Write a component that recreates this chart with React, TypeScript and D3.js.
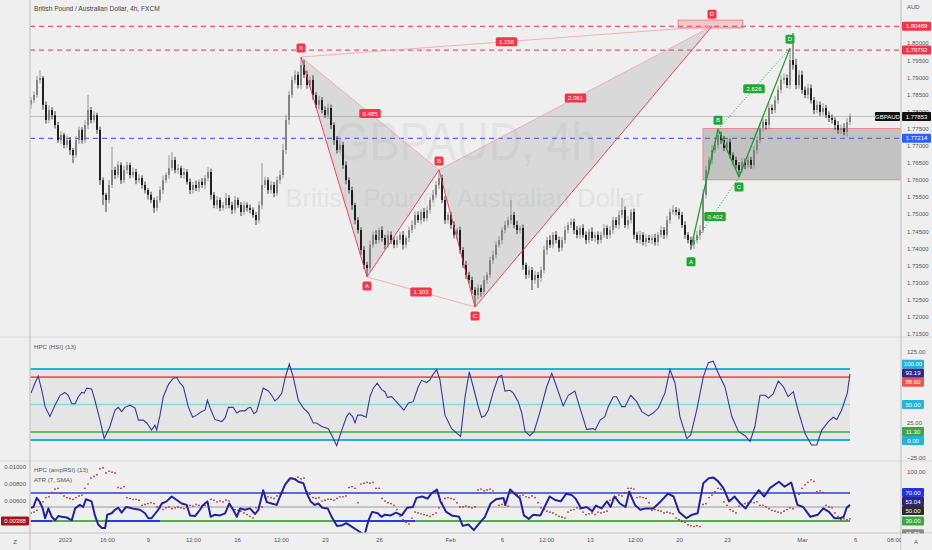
import { useEffect, useRef } from 'react';
import * as d3 from 'd3';

// ---------- price data (4h candles, open = previous close) ----------
const firstOpen = 1.782;
const closes = [
  1.7833, 1.7848, 1.7892, 1.7898, 1.7819, 1.7775, 1.7804, 1.7789, 1.7760, 1.7716,
  1.7731, 1.7702, 1.7716, 1.7687, 1.7672, 1.7716, 1.7746, 1.7716, 1.7760, 1.7804,
  1.7775, 1.7789, 1.7746, 1.7599, 1.7556, 1.7541, 1.7585, 1.7629, 1.7614, 1.7643,
  1.7599, 1.7629, 1.7643, 1.7614, 1.7623, 1.7599, 1.7605, 1.7585, 1.7570, 1.7556,
  1.7541, 1.7518, 1.7541, 1.7570, 1.7599, 1.7614, 1.7634, 1.7658, 1.7629, 1.7634,
  1.7614, 1.7623, 1.7594, 1.7570, 1.7585, 1.7576, 1.7594, 1.7585, 1.7605, 1.7623,
  1.7556, 1.7526, 1.7541, 1.7518, 1.7526, 1.7547, 1.7526, 1.7512, 1.7541, 1.7526,
  1.7506, 1.7526, 1.7518, 1.7512, 1.7497, 1.7482, 1.7526, 1.7585, 1.7599, 1.7570,
  1.7585, 1.7561, 1.7599, 1.7614, 1.7687, 1.7775, 1.7848, 1.7892, 1.7907, 1.7877,
  1.7936, 1.7907, 1.7877, 1.7892, 1.7848, 1.7819, 1.7833, 1.7804, 1.7789, 1.7810,
  1.7760, 1.7716, 1.7687, 1.7702, 1.7643, 1.7599, 1.7570, 1.7526, 1.7482, 1.7453,
  1.7395, 1.7351, 1.7342, 1.7410, 1.7439, 1.7424, 1.7453, 1.7430, 1.7410, 1.7439,
  1.7424, 1.7410, 1.7424, 1.7439, 1.7410, 1.7430, 1.7453, 1.7468, 1.7497, 1.7482,
  1.7506, 1.7488, 1.7512, 1.7541, 1.7556, 1.7585, 1.7605, 1.7541, 1.7482, 1.7497,
  1.7468, 1.7439, 1.7453, 1.7395, 1.7351, 1.7322, 1.7307, 1.7278, 1.7263, 1.7284,
  1.7272, 1.7307, 1.7322, 1.7365, 1.7380, 1.7410, 1.7424, 1.7453, 1.7468, 1.7482,
  1.7497, 1.7468, 1.7453, 1.7459, 1.7351, 1.7322, 1.7336, 1.7307, 1.7322, 1.7313,
  1.7336, 1.7395, 1.7424, 1.7410, 1.7439, 1.7424, 1.7401, 1.7424, 1.7453, 1.7468,
  1.7477, 1.7453, 1.7439, 1.7459, 1.7439, 1.7424, 1.7448, 1.7430, 1.7439, 1.7424,
  1.7439, 1.7459, 1.7439, 1.7453, 1.7482, 1.7468, 1.7497, 1.7512, 1.7468, 1.7482,
  1.7506, 1.7439, 1.7424, 1.7439, 1.7418, 1.7430, 1.7424, 1.7430, 1.7418, 1.7439,
  1.7453, 1.7439, 1.7482, 1.7506, 1.7512, 1.7506, 1.7497, 1.7468, 1.7439, 1.7424,
  1.7410, 1.7424, 1.7439, 1.7453, 1.7556, 1.7629, 1.7658, 1.7687, 1.7702, 1.7731,
  1.7716, 1.7693, 1.7710, 1.7672, 1.7658, 1.7643, 1.7629, 1.7652, 1.7643, 1.7658,
  1.7643, 1.7687, 1.7716, 1.7751, 1.7769, 1.7760, 1.7810, 1.7804, 1.7833, 1.7863,
  1.7892, 1.7898, 1.7877, 1.7950, 1.7936, 1.7877, 1.7907, 1.7863, 1.7848, 1.7868,
  1.7833, 1.7804, 1.7819, 1.7798, 1.7810, 1.7789, 1.7781, 1.7775, 1.7760, 1.7746,
  1.7751, 1.7740, 1.7769, 1.77853,
];
// wick lengths in pips above the body / below the body
const wickUp = [
  8, 10, 12, 23, 6, 10, 14, 8, 12, 9, 11, 7, 13, 9, 6, 12, 10, 8, 14, 44,
  9, 12, 7, 10, 8, 6, 14, 67, 9, 11, 8, 12, 10, 7, 13, 9, 11, 8, 10, 6,
  9, 7, 12, 10, 14, 8, 38, 23, 9, 11, 7, 12, 8, 10, 9, 13, 7, 11, 9, 14,
  10, 8, 12, 7, 9, 14, 8, 10, 12, 7, 9, 11, 8, 10, 7, 9, 12, 64, 10, 8,
  12, 9, 11, 14, 18, 15, 12, 10, 14, 9, 23, 16, 12, 10, 14, 8, 12, 9, 11, 13,
  10, 8, 12, 14, 9, 11, 8, 10, 7, 9, 8, 11, 9, 12, 10, 14, 8, 11, 9, 12,
  10, 8, 12, 9, 11, 7, 10, 13, 9, 11, 8, 12, 10, 9, 14, 11, 24, 10, 12, 8,
  9, 11, 7, 10, 8, 12, 9, 10, 8, 11, 9, 12, 8, 10, 14, 9, 11, 8, 12, 10,
  44, 9, 12, 8, 10, 7, 11, 9, 12, 8, 10, 12, 9, 14, 8, 11, 10, 9, 12, 8,
  10, 9, 12, 8, 11, 10, 9, 13, 8, 10, 9, 11, 8, 12, 10, 9, 14, 35, 10, 12,
  8, 10, 9, 12, 8, 11, 9, 10, 12, 8, 11, 9, 12, 10, 14, 8, 10, 9, 11, 8,
  10, 9, 12, 14, 16, 12, 10, 14, 11, 17, 10, 12, 9, 11, 8, 10, 9, 12, 10, 11,
  9, 12, 10, 14, 11, 9, 13, 10, 12, 11, 14, 12, 10, 35, 79, 18, 14, 12, 10, 13,
  11, 9, 12, 10, 14, 9, 11, 10, 8, 12, 10, 14, 12, 9,
];
const wickDown = [
  12, 9, 8, 10, 14, 11, 9, 12, 10, 8, 12, 10, 9, 14, 23, 8, 11, 10, 9, 12,
  10, 8, 12, 14, 30, 35, 10, 9, 12, 8, 11, 9, 12, 10, 8, 12, 9, 11, 10, 14,
  9, 15, 10, 8, 12, 9, 11, 8, 10, 12, 9, 11, 8, 12, 10, 9, 11, 8, 12, 10,
  14, 9, 12, 10, 8, 11, 9, 12, 10, 8, 12, 9, 11, 10, 8, 14, 10, 12, 9, 11,
  10, 12, 9, 11, 10, 12, 14, 9, 11, 10, 12, 9, 11, 10, 14, 9, 12, 10, 8, 11,
  12, 14, 10, 9, 11, 12, 10, 14, 12, 10, 14, 12, 26, 10, 9, 12, 10, 11, 14, 9,
  12, 10, 9, 11, 14, 10, 12, 9, 11, 8, 12, 10, 9, 11, 8, 10, 12, 9, 11, 10,
  12, 10, 14, 11, 9, 12, 10, 11, 35, 12, 14, 10, 12, 9, 11, 10, 8, 12, 10, 9,
  11, 10, 12, 9, 14, 12, 10, 29, 11, 29, 12, 10, 14, 9, 11, 10, 12, 9, 11, 10,
  9, 12, 10, 11, 8, 12, 10, 9, 11, 12, 10, 9, 12, 10, 11, 9, 12, 10, 9, 11,
  10, 12, 9, 11, 10, 14, 9, 12, 10, 11, 9, 12, 10, 11, 8, 10, 12, 9, 11, 10,
  15, 12, 10, 14, 9, 11, 10, 12, 9, 10, 11, 9, 12, 10, 14, 11, 21, 10, 12, 9,
  11, 10, 12, 9, 11, 14, 10, 12, 9, 11, 10, 12, 9, 11, 14, 12, 10, 11, 9, 12,
  10, 12, 9, 11, 10, 9, 12, 10, 14, 11, 12, 10, 14, 9,
];

const priceTicks = [1.715, 1.72, 1.725, 1.73, 1.735, 1.74, 1.745, 1.75, 1.755, 1.76, 1.765, 1.77, 1.775, 1.78, 1.785, 1.79, 1.795, 1.8];
const timeTickBars = [11.3, 25.3, 39, 54, 68.7, 83.3, 98, 116, 139.7, 157, 171.7, 186.3, 201.3, 216, 232, 257, 274.7, 287.7];
const timeTickLabels = ['2023', '16:00', '9', '12:00', '16', '12:00', '23', '26', 'Feb', '6', '12:00', '13', '12:00', '20', '23', 'Mar', '6', '08:00'];

const levelPrices = [1.80489, 1.79792, 1.77214];
const lastPrice = 1.77853;

// bearish harmonic (red) and bullish harmonic (green)
const redNames = ['X', 'A', 'B', 'C', 'D'];
const redBars = [90, 112, 136, 148, 227];
const redPrices = [1.7959, 1.7316, 1.7629, 1.7228, 1.8049];
const redRatios = ['0.485', '1.303', '2.061', '1.156'];
const greenNames = ['A', 'B', 'C', 'D'];
const greenBars = [220, 229, 236, 253];
const greenPrices = [1.7401, 1.7748, 1.7608, 1.7985];
const greenRatios = ['0.402', '2.626'];
const zoneBars = [224, 290];
const zonePrices = [1.775, 1.76];
const targetBars = [215.7, 237.3];
const targetPrices = [1.8067, 1.8044];

// HPC (HSI) (13): [bar, value]
const hsiPoints: [number, number][] = [
  [0, 66], [1.3, 80], [2.4, 90], [3.6, 70], [4.7, 47], [6.3, 33], [8, 49], [9.7, 63], [11.3, 67], [12.4, 63],
  [13.6, 51], [14.7, 51], [15.8, 61], [16.9, 67], [17.7, 66], [18.6, 73], [20.2, 72], [21.3, 56], [23, 28], [24.4, 2],
  [26.3, 19], [28, 42], [29.1, 46], [30.2, 40], [31.3, 46], [33, 49], [34.7, 45], [35.8, 28], [37.4, 28], [38.6, 24],
  [40.2, 14], [41.3, 21], [41.9, 14], [43, 35], [44.1, 61], [45.8, 78], [47.4, 87], [48.6, 88], [49.7, 80], [50.8, 75],
  [52.4, 47], [53.9, 32], [55.2, 35], [56.9, 40], [58, 42], [58.8, 56], [59.7, 45], [61.3, 29], [63.6, 26], [64.7, 31],
  [65.8, 46], [67.4, 46], [68.6, 38], [69.7, 41], [71.3, 41], [72.4, 45], [73.2, 46], [74.3, 37], [75.2, 40], [77.4, 73],
  [79.1, 69], [80.2, 63], [81.3, 55], [82.4, 59], [83.6, 66], [84.7, 87], [86.1, 107], [87.4, 89], [89.1, 56], [90.8, 45],
  [92.5, 38], [94.1, 24], [95.2, 24], [96.9, 19], [99.1, 16], [100.2, 7], [101.9, -8], [103.6, 14], [105.2, 33], [106.1, 38],
  [107.2, 33], [108, 24], [108.9, 35], [110.2, 35], [111.7, 32], [113, 61], [114.1, 73], [115.4, 80], [116.9, 71], [118, 68],
  [118.8, 60], [120.2, 61], [121.3, 56], [122.8, 49], [124.3, 42], [125.8, 52], [127.4, 54], [129.1, 75], [130.2, 84], [131.9, 81],
  [133, 85], [134.1, 93], [135.2, 99], [136.3, 85], [138, 35], [140.2, 16], [143.2, 5], [144.7, 61], [146.1, 96], [147.4, 75],
  [149.1, 47], [150.2, 32], [151.3, 34], [152.4, 42], [154.1, 68], [155.8, 89], [156.9, 91], [158, 69], [159.7, 70], [160.8, 66],
  [162.4, 54], [163.6, 38], [164.7, 12], [166.3, 6], [167.7, 12], [169.7, 40], [171.9, 75], [173.6, 94], [175.2, 75], [177.4, 48],
  [179.1, 63], [181.3, 69], [183, 45], [185.2, 15], [187.4, 16], [188.1, 14], [189.7, 28], [191.3, 33], [192.4, 47], [194.1, 61],
  [195.2, 61], [196.9, 47], [198, 47], [199.9, 63], [201.9, 54], [203.6, 40], [205.8, 34], [207.4, 38], [209.1, 45], [211.3, 66],
  [213, 99], [214.7, 80], [216.3, 33], [218.6, 2], [219.9, 7], [221.9, 42], [224.1, 89], [225.8, 109], [227.4, 111], [229.1, 94],
  [231.3, 75], [233.6, 33], [235.8, 12], [238, 6], [239.7, -2], [241.3, 19], [243, 63], [244.7, 63], [245.8, 59], [247.4, 65],
  [249.1, 83], [250.8, 75], [252.4, 61], [254.1, 68], [255.8, 40], [258, 9], [260.2, -7], [261.9, -7], [263.6, 14], [265.8, 26],
  [267.4, 32], [268.6, 29], [270.2, 42], [272.1, 66], [273, 93.19],
];
const hsiLevels = [100, 88.6, 50, 11.3, 0];
const hsiTicks = [125, 25, -25];

// HPC (ampRSI) (13): [bar, value]
const ampPoints: [number, number][] = [
  [0, 49], [0.8, 50], [1.9, 63], [3, 57], [3.9, 48], [4.7, 34], [5.8, 48], [6.9, 36], [8, 31], [9.1, 37],
  [10.2, 36], [11.9, 35], [13.6, 31], [14.7, 48], [16.3, 53], [17.4, 50], [18.3, 61], [20.2, 58], [21.3, 38], [22.4, 25],
  [23.6, 20], [24.7, 20], [25.4, 39], [26.9, 41], [28, 46], [29.1, 49], [30.2, 42], [31.7, 50], [33, 49], [34.7, 47],
  [36.3, 46], [38, 41], [39.1, 34], [40.2, 34], [41.3, 40], [42.4, 46], [43.6, 55], [45.2, 58], [46.9, 65], [48.6, 60],
  [50.2, 55], [51.9, 53], [53, 38], [54.7, 37], [56.3, 46], [57.4, 53], [58.8, 58], [59.9, 36], [61.3, 39], [63, 38],
  [64.7, 41], [66.1, 55], [67.4, 46], [68.6, 36], [69.7, 48], [71.3, 46], [73, 48], [74.7, 40], [75.8, 46], [77.4, 74],
  [78.6, 57], [80.2, 55], [81.9, 53], [83, 65], [84.7, 82], [86.3, 91], [88, 90], [89.1, 86], [90.8, 84], [91.9, 70],
  [93.2, 58], [94.6, 53], [95.8, 55], [97.1, 49], [98.9, 48], [100.2, 36], [102, 23], [103.8, 24], [105.1, 27], [106.9, 22],
  [109.4, 15], [111.2, 10], [112.5, 31], [113.7, 43], [115.6, 41], [116.8, 36], [118, 39], [119.9, 38], [121.7, 42], [123.6, 38],
  [125.4, 49], [127.3, 50], [128.5, 63], [130.4, 65], [132.2, 62], [133.4, 69], [135.3, 75], [136.5, 58], [138.4, 43], [140.2, 38],
  [142.7, 36], [143.9, 23], [145.8, 25], [147.6, 17], [149.5, 27], [151.3, 36], [153.2, 55], [155, 61], [157.5, 63], [158.1, 53],
  [159.7, 75], [161.2, 69], [163, 62], [164.3, 38], [165.9, 33], [167.4, 39], [169.8, 38], [172.9, 65], [174.7, 60], [176.6, 58],
  [178.4, 69], [180.3, 67], [181.5, 62], [183.4, 48], [185.2, 50], [187.1, 44], [188.3, 52], [190.2, 48], [192, 58], [193.2, 50],
  [194.5, 65], [196.3, 55], [198.2, 50], [199.4, 72], [201.3, 53], [203.1, 46], [205, 48], [207.4, 48], [209.9, 58], [212.3, 69],
  [214.2, 65], [216, 43], [218.5, 34], [220.4, 39], [222.2, 41], [224.1, 84], [225.9, 91], [227.5, 92], [229, 87], [230.8, 77],
  [232.7, 58], [234.5, 65], [236.4, 55], [238.2, 48], [240.1, 60], [242.6, 74], [244.4, 65], [246.3, 77], [249.3, 86], [251.2, 79],
  [253.4, 85], [255.5, 53], [257.4, 50], [259.8, 36], [262.3, 39], [264.1, 48], [266, 43], [267.8, 34], [269.7, 34], [270.9, 36],
  [271.9, 49], [273, 53.04],
];
const ampLevels = [70, 50, 30];
const ampTicks = [100];
const ampBlueStart = [0, 25, 101];
const ampBlueEnd = [7, 43, 128];

// ATR (7, SMA), one value per bar
const atr = [
  .0046, .0047, .0049, .0057, .0059, .0064, .0065, .0070, .0074, .0075,
  .0069, .0066, .0064, .0063, .0062, .0064, .0066, .0067, .0075, .0080,
  .0087, .0089, .0091, .0098, .0099, .0093, .0095, .0094, .0093, .0076,
  .0075, .0077, .0064, .0063, .0062, .0062, .0061, .0055, .0056, .0057,
  .0058, .0057, .0053, .0052, .0050, .0052, .0053, .0051, .0052, .0053,
  .0052, .0051, .0053, .0055, .0054, .0056, .0055, .0054, .0055, .0057,
  .0062, .0061, .0059, .0060, .0059, .0061, .0060, .0052, .0050, .0049,
  .0048, .0046, .0044, .0042, .0040, .0052, .0053, .0053, .0064, .0065,
  .0064, .0063, .0066, .0069, .0070, .0081, .0084, .0087, .0085, .0088,
  .0086, .0087, .0071, .0068, .0064, .0063, .0064, .0060, .0061, .0062,
  .0062, .0061, .0063, .0065, .0065, .0066, .0076, .0077, .0075, .0058,
  .0080, .0081, .0082, .0081, .0082, .0075, .0075, .0063, .0060, .0058,
  .0057, .0055, .0050, .0042, .0038, .0035, .0033, .0040, .0047, .0046,
  .0045, .0044, .0043, .0042, .0044, .0046, .0052, .0058, .0063, .0064,
  .0063, .0062, .0058, .0053, .0053, .0054, .0053, .0052, .0053, .0073,
  .0074, .0072, .0073, .0074, .0072, .0062, .0055, .0056, .0055, .0054,
  .0070, .0069, .0068, .0066, .0067, .0065, .0064, .0066, .0064, .0058,
  .0052, .0050, .0048, .0047, .0046, .0044, .0042, .0041, .0040, .0047,
  .0049, .0050, .0052, .0051, .0047, .0044, .0045, .0046, .0044, .0047,
  .0046, .0047, .0048, .0061, .0063, .0065, .0067, .0066, .0070, .0075,
  .0075, .0074, .0064, .0065, .0064, .0063, .0058, .0049, .0050, .0049,
  .0048, .0046, .0047, .0046, .0045, .0040, .0038, .0036, .0035, .0032,
  .0031, .0030, .0031, .0030, .0056, .0057, .0064, .0067, .0071, .0075,
  .0074, .0059, .0055, .0050, .0048, .0046, .0054, .0056, .0057, .0058,
  .0059, .0058, .0059, .0055, .0055, .0053, .0051, .0049, .0048, .0047,
  .0046, .0048, .0050, .0052, .0051, .0060, .0068, .0075, .0079, .0082,
  .0085, .0083, .0071, .0072, .0070, .0055, .0053, .0052, .0046, .0042,
  .0038, .0039, .0038, .0039,
];
const atrTicks = [0.01, 0.008, 0.006];
const atrLast = 0.00388;

const FONT = '"Liberation Sans", Arial, sans-serif';

export default function App() {
  const svgRef = useRef<SVGSVGElement>(null);

  useEffect(() => {
    if (!svgRef.current) return;
    const W = 932, H = 550;
    const L = 30, R = 901;
    const mainBot = 337, hsiBot = 461, lowBot = 533;

    const root = d3.select(svgRef.current);
    root.selectAll('*').remove();
    root.attr('width', W).attr('height', H);

    const x = d3.scaleLinear().domain([0, 290]).range([31, 901]);
    const yMain = d3.scaleLinear().domain([1.75, 1.8]).range([214, 43]);
    const yHsi = d3.scaleLinear().domain([0, 100]).range([440, 369]);
    const yAmp = d3.scaleLinear().domain([30, 70]).range([521, 493]);
    const yAtr = d3.scaleLinear().domain([0.006, 0.01]).range([501, 467]);

    root.append('rect').attr('width', W).attr('height', H).attr('fill', '#efefef');

    const defs = root.append('defs');
    const clip = (id: string, y0: number, y1: number) =>
      defs.append('clipPath').attr('id', id).append('rect')
        .attr('x', L + 0.5).attr('y', y0).attr('width', R - L - 1).attr('height', y1 - y0);
    clip('c-main', 0, mainBot);
    clip('c-hsi', mainBot, hsiBot);
    clip('c-low', hsiBot, lowBot);
    defs.append('clipPath').attr('id', 'c-time').append('rect')
      .attr('x', L).attr('y', lowBot).attr('width', R - L).attr('height', H - lowBot);

    // ---------- main panel ----------
    const main = root.append('g').attr('clip-path', 'url(#c-main)');

    main.append('text').attr('x', (L + R) / 2).attr('y', 160).attr('text-anchor', 'middle')
      .attr('font-family', FONT).attr('font-size', 54).attr('fill', '#e3e3e3')
      .attr('textLength', 262).attr('lengthAdjust', 'spacingAndGlyphs').text('GBPAUD, 4h');
    main.append('text').attr('x', (L + R) / 2 - 1).attr('y', 207).attr('text-anchor', 'middle')
      .attr('font-family', FONT).attr('font-size', 26).attr('fill', '#e3e3e3')
      .attr('textLength', 358).attr('lengthAdjust', 'spacingAndGlyphs').text('British Pound / Australian Dollar');

    // last price line and levels
    main.append('line').attr('x1', L).attr('x2', R)
      .attr('y1', yMain(lastPrice)).attr('y2', yMain(lastPrice))
      .attr('stroke', '#a8a8a8').attr('stroke-width', 0.7);
    const levelColors = ['#e5566b', '#e5566b', '#4a6ee8'];
    levelPrices.forEach((p, i) => {
      main.append('line').attr('x1', L).attr('x2', R).attr('y1', yMain(p)).attr('y2', yMain(p))
        .attr('stroke', levelColors[i]).attr('stroke-width', 1.3).attr('stroke-dasharray', '5,4');
    });

    // zone rectangle
    main.append('rect')
      .attr('x', x(zoneBars[0])).attr('y', yMain(zonePrices[0]))
      .attr('width', x(zoneBars[1]) - x(zoneBars[0]))
      .attr('height', yMain(zonePrices[1]) - yMain(zonePrices[0]))
      .attr('fill', 'rgba(120,120,120,0.38)').attr('stroke', '#ee8a8a').attr('stroke-width', 1);

    // red pattern triangles
    const rp = redBars.map((b, i) => [x(b), yMain(redPrices[i])] as [number, number]);
    [[0, 1, 2], [2, 3, 4]].forEach(t => {
      main.append('path').attr('d', 'M' + t.map(k => rp[k].join(',')).join('L') + 'Z')
        .attr('fill', 'rgba(140,140,140,0.22)');
    });

    // candles
    const candles = closes.map((c, i) => {
      const o = i ? closes[i - 1] : firstOpen;
      return { i, o, c, h: Math.max(o, c) + wickUp[i] * 1e-4, l: Math.min(o, c) - wickDown[i] * 1e-4 };
    });
    const col = (d: any) => (d.c >= d.o ? '#7e7e7e' : '#151515');
    main.append('g').selectAll('line').data(candles).join('line')
      .attr('x1', d => x(d.i)).attr('x2', d => x(d.i))
      .attr('y1', d => yMain(d.h)).attr('y2', d => yMain(d.l))
      .attr('stroke', col).attr('stroke-width', 0.8);
    main.append('g').selectAll('rect').data(candles).join('rect')
      .attr('x', d => x(d.i) - 0.9).attr('width', 1.8)
      .attr('y', d => yMain(Math.max(d.o, d.c)))
      .attr('height', d => Math.max(0.7, Math.abs(yMain(d.o) - yMain(d.c))))
      .attr('fill', col);

    // target box
    main.append('rect')
      .attr('x', x(targetBars[0])).attr('y', yMain(targetPrices[0]))
      .attr('width', x(targetBars[1]) - x(targetBars[0]))
      .attr('height', yMain(targetPrices[1]) - yMain(targetPrices[0]))
      .attr('fill', 'rgba(242,54,69,0.2)').attr('stroke', '#f0707c').attr('stroke-width', 0.8);

    const seg = (g: any, a: [number, number], b: [number, number], color: string, w: number, dash?: string) =>
      g.append('line').attr('x1', a[0]).attr('y1', a[1]).attr('x2', b[0]).attr('y2', b[1])
        .attr('stroke', color).attr('stroke-width', w).attr('stroke-dasharray', dash || null);

    const box = (g: any, cx: number, cy: number, text: string, bg: string, w?: number) => {
      const bw = w || text.length * 3.3 + 5;
      g.append('rect').attr('x', cx - bw / 2).attr('y', cy - 4.5).attr('width', bw).attr('height', 9)
        .attr('rx', 1.5).attr('fill', bg);
      g.append('text').attr('x', cx).attr('y', cy + 2.1).attr('text-anchor', 'middle')
        .attr('font-family', FONT).attr('font-size', 6).attr('fill', '#fff').text(text);
    };

    // red pattern lines
    const lightRed = '#f3a0a6', red = '#f23645';
    seg(main, rp[0], rp[2], lightRed, 0.8);
    seg(main, rp[1], rp[3], lightRed, 0.8);
    seg(main, rp[2], rp[4], lightRed, 0.8);
    seg(main, rp[0], rp[4], lightRed, 0.8);
    for (let k = 0; k < 4; k++) seg(main, rp[k], rp[k + 1], red, 0.9);
    const mid = (a: [number, number], b: [number, number]) => [(a[0] + b[0]) / 2, (a[1] + b[1]) / 2];
    [[0, 2], [1, 3], [2, 4], [0, 4]].forEach(([a, b], i) => {
      const m = mid(rp[a], rp[b]);
      box(main, m[0], m[1], redRatios[i], red);
    });
    rp.forEach((p, i) => {
      const up = i % 2 === 0;
      box(main, p[0], p[1] + (up ? -(i === 4 ? 12 : 9) : 9), redNames[i], red, 9);
    });

    // green pattern
    const gp = greenBars.map((b, i) => [x(b), yMain(greenPrices[i])] as [number, number]);
    const green = '#1f9d2f';
    seg(main, gp[0], gp[2], green, 1, '1,2');
    seg(main, gp[1], gp[3], green, 1, '1,2');
    for (let k = 0; k < 3; k++) seg(main, gp[k], gp[k + 1], green, 1.3);
    [[0, 2], [1, 3]].forEach(([a, b], i) => {
      const m = mid(gp[a], gp[b]);
      box(main, m[0], m[1] + (i === 0 ? 4 : 0), greenRatios[i], '#22a533');
    });
    gp.forEach((p, i) => {
      const up = i % 2 === 1;
      box(main, p[0], p[1] + (up ? -9 : (i === 0 ? 14 : 10)), greenNames[i], '#22a533', 9);
    });

    // ---------- HSI panel ----------
    const hsi = root.append('g').attr('clip-path', 'url(#c-hsi)');
    const hsiEnd = x(273);
    hsi.append('rect').attr('x', L).attr('y', yHsi(100)).attr('width', hsiEnd - L)
      .attr('height', yHsi(0) - yHsi(100)).attr('fill', '#e5e5e5');
    const hsiColors = ['#1fb3d8', '#f0555a', '#8fd8e8', '#3daa45', '#1fb3d8'];
    const hsiWidths = [2, 1.6, 1.5, 1.6, 2];
    hsiLevels.forEach((v, i) => {
      hsi.append('line').attr('x1', L).attr('x2', hsiEnd).attr('y1', yHsi(v)).attr('y2', yHsi(v))
        .attr('stroke', hsiColors[i]).attr('stroke-width', hsiWidths[i]);
    });
    const hsiLine = d3.line<[number, number]>().x(d => x(d[0])).y(d => yHsi(d[1]));
    hsi.append('path').attr('d', hsiLine(hsiPoints)).attr('fill', 'none')
      .attr('stroke', '#3a3896').attr('stroke-width', 1.1);

    // ---------- ampRSI / ATR panel ----------
    const low = root.append('g').attr('clip-path', 'url(#c-low)');
    const ampColors = ['#2b3ddf', '#9a9a9a', '#4caf50'];
    const ampWidths = [1.6, 1, 1.8];
    ampLevels.forEach((v, i) => {
      low.append('line').attr('x1', L).attr('x2', hsiEnd).attr('y1', yAmp(v)).attr('y2', yAmp(v))
        .attr('stroke', ampColors[i]).attr('stroke-width', ampWidths[i]);
    });
    ampBlueStart.forEach((s, i) => {
      low.append('line').attr('x1', x(s)).attr('x2', x(ampBlueEnd[i])).attr('y1', yAmp(30)).attr('y2', yAmp(30))
        .attr('stroke', '#2b3ddf').attr('stroke-width', 1.8);
    });
    low.append('g').selectAll('circle').data(atr).join('circle')
      .attr('cx', (_, i) => x(i)).attr('cy', d => yAtr(d)).attr('r', 0.85).attr('fill', '#b3262e');
    const ampLine = d3.line<[number, number]>().x(d => x(d[0])).y(d => yAmp(d[1]));
    low.append('path').attr('d', ampLine(ampPoints)).attr('fill', 'none')
      .attr('stroke', '#23239c').attr('stroke-width', 2).attr('stroke-linejoin', 'round');

    // ---------- separators ----------
    [mainBot, hsiBot].forEach(y => root.append('line').attr('x1', 0).attr('x2', W).attr('y1', y).attr('y2', y)
      .attr('stroke', '#dadada').attr('stroke-width', 1));
    root.append('line').attr('x1', 0).attr('x2', W).attr('y1', lowBot).attr('y2', lowBot)
      .attr('stroke', '#c4c4c4').attr('stroke-width', 1);
    [L, R].forEach(xx => root.append('line').attr('x1', xx).attr('x2', xx).attr('y1', 0).attr('y2', H)
      .attr('stroke', '#bdbdbd').attr('stroke-width', 1));

    // ---------- axes ----------
    const styleAxis = (g: any) => {
      g.select('.domain').remove();
      g.selectAll('text').attr('fill', '#555').attr('font-size', 6).attr('font-family', FONT);
    };
    root.append('g').attr('transform', `translate(${R},0)`)
      .call(d3.axisRight(yMain).tickValues(priceTicks).tickFormat(d3.format('.5f')).tickSize(0).tickPadding(6))
      .call(styleAxis);
    root.append('g').attr('transform', `translate(${R},0)`)
      .call(d3.axisRight(yHsi).tickValues(hsiTicks).tickFormat(d3.format('.2f')).tickSize(0).tickPadding(6))
      .call(styleAxis);
    root.append('g').attr('transform', `translate(${R},0)`)
      .call(d3.axisRight(yAmp).tickValues(ampTicks).tickFormat(d3.format('.2f')).tickSize(0).tickPadding(6))
      .call(styleAxis);
    root.append('g').attr('transform', `translate(${L},0)`)
      .call(d3.axisLeft(yAtr).tickValues(atrTicks).tickFormat(d3.format('.5f')).tickSize(0).tickPadding(4))
      .call(styleAxis);
    root.append('g').attr('clip-path', 'url(#c-time)')
      .append('g').attr('transform', `translate(0,${lowBot})`)
      .call(d3.axisBottom(x).tickValues(timeTickBars).tickFormat((_, i) => timeTickLabels[i]).tickSize(0).tickPadding(5))
      .call(styleAxis);

    const plain = (tx: number, ty: number, t: string, size = 6, anchor = 'start', fill = '#555') =>
      root.append('text').attr('x', tx).attr('y', ty).attr('text-anchor', anchor)
        .attr('font-family', FONT).attr('font-size', size).attr('fill', fill).text(t);
    plain(907, 9, 'AUD');
    plain(15, 544, 'Z', 6, 'middle');
    plain(34, 11, 'British Pound / Australian Dollar, 4h, FXCM', 6.6, 'start', '#444');
    plain(34, 349, 'HPC (HSI) (13)', 6.2, 'start', '#555');
    plain(34, 472, 'HPC (ampRSI) (13)', 6.2, 'start', '#555');
    plain(34, 482, 'ATR (7, SMA)', 6.2, 'start', '#555');

    // ---------- value tags ----------
    const spread = (items: { y: number; t: string; bg: string }[], h: number) => {
      const sorted = [...items].sort((a, b) => a.y - b.y);
      let groups = sorted.map(it => ({ items: [it], c: it.y }));
      let merged = true;
      while (merged) {
        merged = false;
        for (let k = 1; k < groups.length; k++) {
          const a = groups[k - 1], b = groups[k];
          if (b.c - b.items.length * h / 2 < a.c + a.items.length * h / 2) {
            const its = a.items.concat(b.items);
            groups.splice(k - 1, 2, { items: its, c: d3.mean(its, d => d.y) as number });
            merged = true;
            break;
          }
        }
      }
      const out: { y: number; t: string; bg: string }[] = [];
      groups.forEach(g => g.items.forEach((it, k) =>
        out.push({ ...it, y: g.c - (g.items.length - 1) * h / 2 + k * h })));
      return out;
    };
    const tag = (tx: number, ty: number, w: number, t: string, bg: string) => {
      root.append('rect').attr('x', tx).attr('y', ty - 4.5).attr('width', w).attr('height', 9)
        .attr('rx', 1).attr('fill', bg);
      root.append('text').attr('x', tx + w / 2).attr('y', ty + 2.1).attr('text-anchor', 'middle')
        .attr('font-family', FONT).attr('font-size', 6).attr('fill', '#fff').text(t);
    };
    const mainTags = [
      { y: yMain(levelPrices[0]), t: d3.format('.5f')(levelPrices[0]), bg: '#f23645' },
      { y: yMain(levelPrices[1]), t: d3.format('.5f')(levelPrices[1]), bg: '#f23645' },
      { y: yMain(lastPrice), t: d3.format('.5f')(lastPrice), bg: '#111' },
      { y: yMain(levelPrices[2]), t: d3.format('.5f')(levelPrices[2]), bg: '#2962ff' },
    ];
    mainTags.forEach(d => tag(R + 1, d.y, 29, d.t, d.bg));
    tag(R - 26, yMain(lastPrice), 25, 'GBPAUD', '#111');

    const hsiLast = hsiPoints[hsiPoints.length - 1][1];
    spread([
      { y: yHsi(100), t: '100.00', bg: '#1fb3d8' },
      { y: yHsi(hsiLast), t: d3.format('.2f')(hsiLast), bg: '#2d2a8c' },
      { y: yHsi(88.6), t: '88.60', bg: '#f25252' },
      { y: yHsi(50), t: '50.00', bg: '#22b5d8' },
      { y: yHsi(11.3), t: '11.30', bg: '#3da548' },
      { y: yHsi(0), t: '0.00', bg: '#1fb3d8' },
    ], 9).forEach(d => tag(R + 1, d.y, 22, d.t, d.bg));

    const ampLast = ampPoints[ampPoints.length - 1][1];
    spread([
      { y: yAmp(70), t: '70.00', bg: '#2233e0' },
      { y: yAmp(ampLast), t: d3.format('.2f')(ampLast), bg: '#2c2878' },
      { y: yAmp(50), t: '50.00', bg: '#2b2b2b' },
      { y: yAmp(30), t: '30.00', bg: '#3da548' },
      { y: yAmp(11.71), t: '11.71', bg: '#8a8a8a' },
    ], 9).forEach(d => tag(R + 1, d.y, 22, d.t, d.bg));

    tag(1, yAtr(atrLast) + 2, 28, d3.format('.5f')(atrLast), '#a3151b');

    // keep axis area clean below the time axis line
    root.append('rect').attr('x', R + 0.5).attr('y', lowBot + 0.5).attr('width', W - R).attr('height', H - lowBot)
      .attr('fill', '#efefef');
    plain(916, 544, 'A', 6, 'middle');
  }, []);

  return (
    <svg
      ref={svgRef}
      style={{ position: 'fixed', left: 0, top: 0, display: 'block' }}
    />
  );
}
